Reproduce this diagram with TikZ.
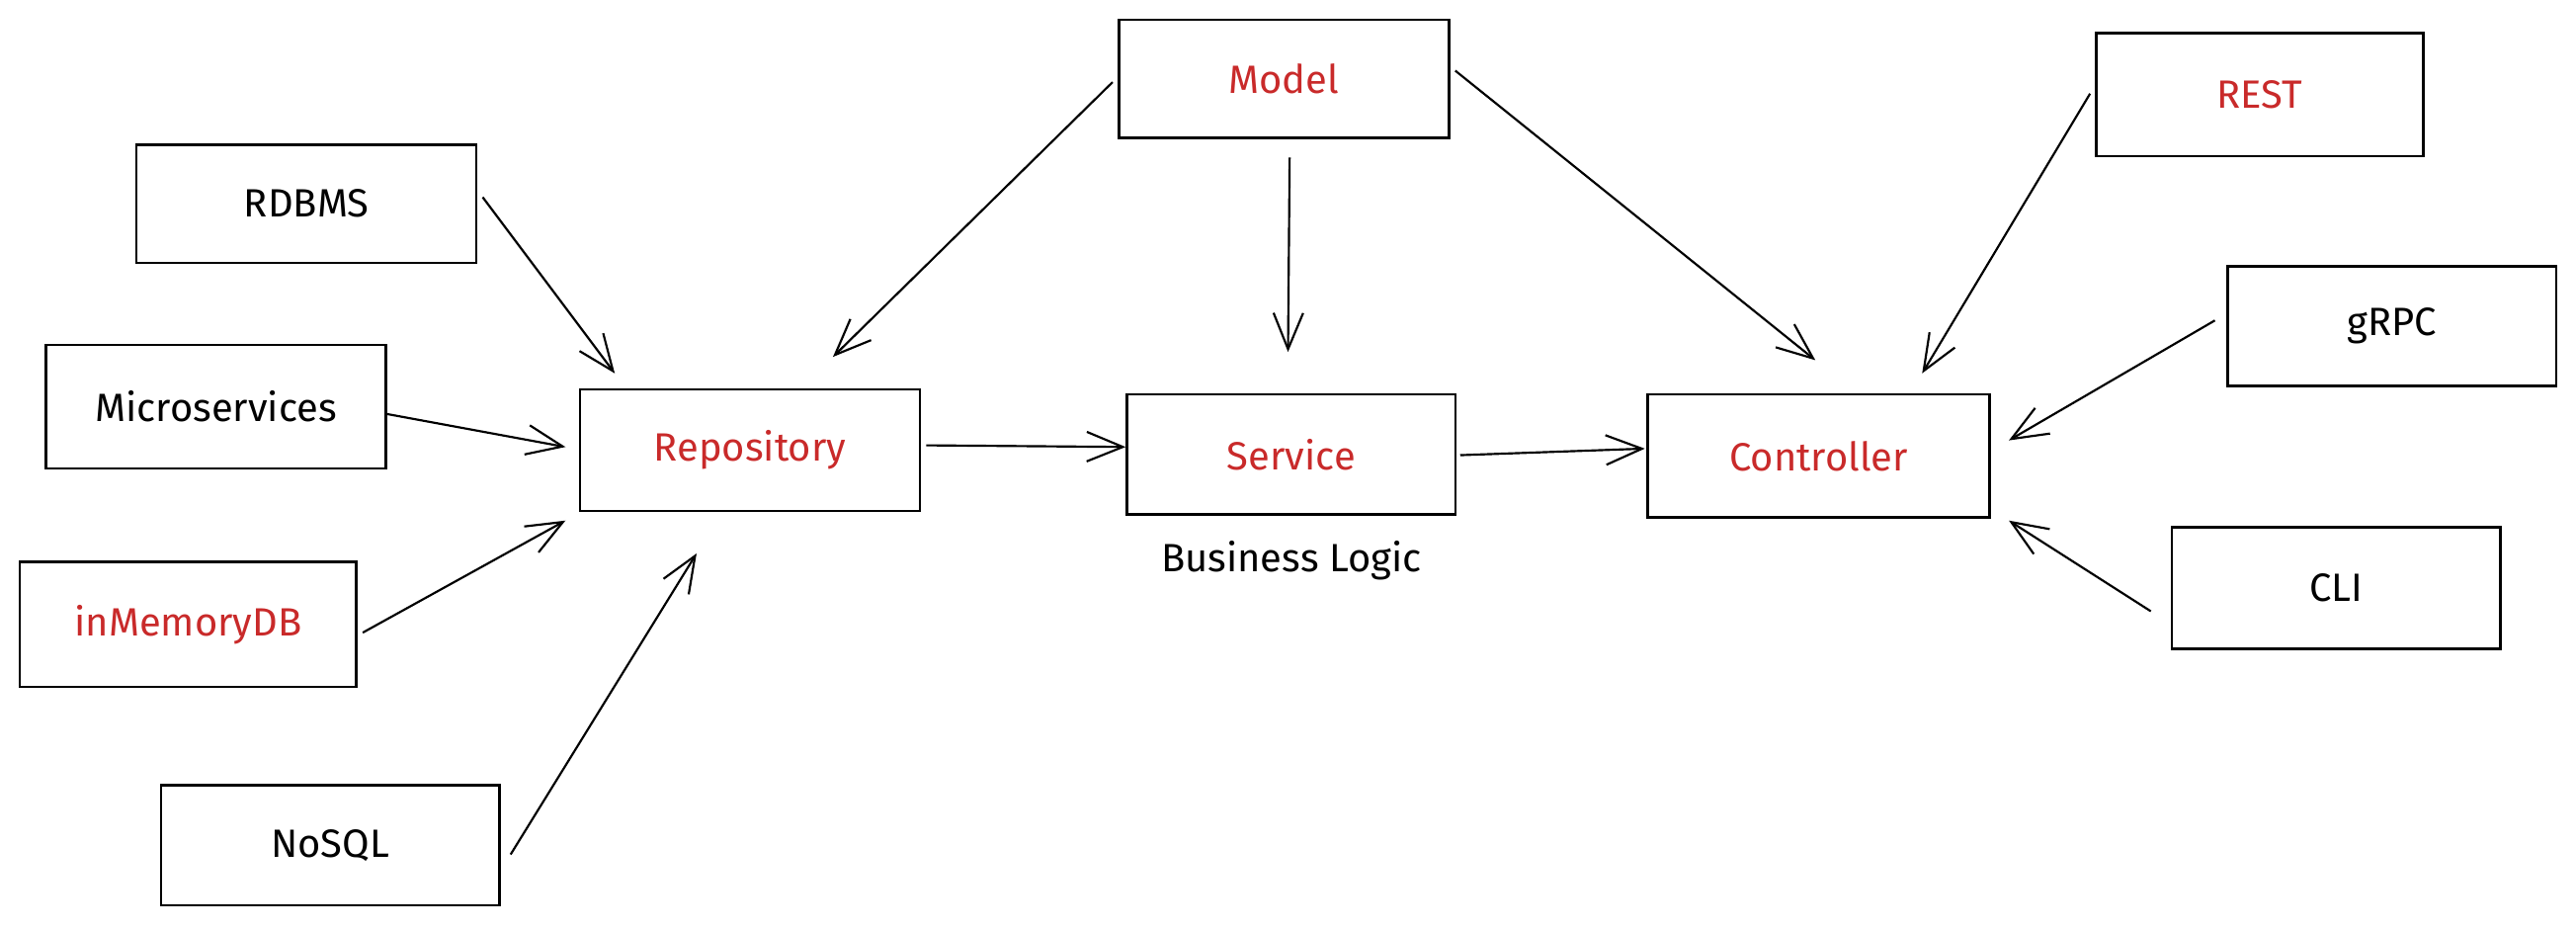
\documentclass[tikz,border=0pt]{standalone}
\usepackage{fontspec}
\setmainfont{Fira Sans}
\usetikzlibrary{arrows.meta,calc}
\definecolor{exred}{RGB}{201,42,42}
\begin{document}
\begin{tikzpicture}[x=1pt,y=-1pt,
  box/.style={draw=black,line width=1.6pt,rectangle,inner sep=0pt,font=\fontsize{24}{28}\selectfont},
  redtxt/.style={text=exred},
  conn/.style={line width=1.3pt,-{Straight Barb[length=22pt,width=18pt,line width=1.3pt]}}]
\useasboundingbox (0,0) rectangle (1568,565.37);
\fill[white] (0,0) rectangle (1568,565.37);
\node[box,minimum width=207pt,minimum height=72pt] (rdbms) at (186.5,124) {RDBMS};
\node[box,minimum width=207pt,minimum height=75pt] (micro) at (131.5,247.5) {Microservices};
\node[box,redtxt,minimum width=207pt,minimum height=74pt] (repo) at (456.5,274) {Repository};
\node[box,redtxt,minimum width=201pt,minimum height=72pt] (model) at (781.5,48) {Model};
\node[box,redtxt,minimum width=200pt,minimum height=73pt] (service) at (786,276.5) {Service};
\node[box,redtxt,minimum width=208pt,minimum height=75pt] (ctrl) at (1107,277.5) {Controller};
\node[box,redtxt,minimum width=199pt,minimum height=75pt] (rest) at (1375.5,57.5) {REST};
\node[box,minimum width=200pt,minimum height=73pt] (grpc) at (1456,198.5) {gRPC};
\node[box,minimum width=200pt,minimum height=74pt] (cli) at (1422,358) {CLI};
\node[box,redtxt,minimum width=205pt,minimum height=76pt] (inmem) at (114.5,380) {inMemoryDB};
\node[box,minimum width=206pt,minimum height=73pt] (nosql) at (201,514.5) {NoSQL};
\node[font=\fontsize{24}{28}\selectfont,inner sep=0pt] (bl) at (786,341) {Business Logic};
\draw[conn] ($(rdbms.east)+(3,-4)$) -- ($(repo.north west)+(22,-9)$);
\draw[conn] ($(micro.east)+(0,4.5)$) -- ($(repo.west)+(-8,-2)$);
\draw[conn] ($(inmem.east)+(3,5)$) -- ($(repo.south west)+(-8,5)$);
\draw[conn] ($(nosql.east)+(6,5.5)$) -- ($(repo.south)+(-32.5,25)$);
\draw[conn] ($(model.west)+(-3,2)$) -- ($(repo.north)+(50.5,-19)$);
\draw[conn] ($(model.south)+(3.5,11)$) -- ($(service.north)+(-2,-25)$);
\draw[conn] ($(model.east)+(3,-5)$) -- ($(ctrl.north)+(-2,-20)$);
\draw[conn] ($(repo.east)+(3,-3)$) -- ($(service.west)+(0,-4.5)$);
\draw[conn] ($(service.east)+(2,0.5)$) -- ($(ctrl.west)+(-1,-4.5)$);
\draw[conn] ($(rest.west)+(-3,-0.5)$) -- ($(ctrl.north)+(63,-12)$);
\draw[conn] ($(grpc.west)+(-7,-3.5)$) -- ($(ctrl.east)+(11,-9.5)$);
\draw[conn] ($(cli.west)+(-12,14)$) -- ($(ctrl.south east)+(11,1)$);
\end{tikzpicture}
\end{document}
